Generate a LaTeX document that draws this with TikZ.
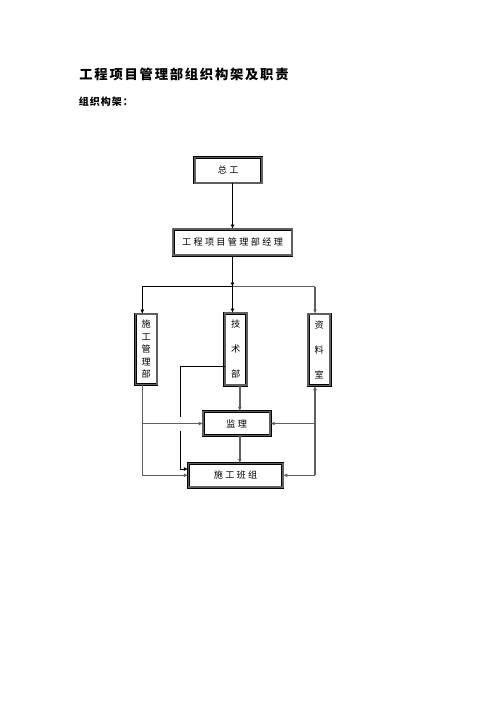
\documentclass[tikz,border=0pt]{standalone}
\usepackage{fontspec}
\setmainfont{Noto Sans CJK SC}
\newfontfamily\boxfont[LetterSpace=25]{Noto Sans CJK SC}
\newfontfamily\headfont[LetterSpace=13]{Noto Sans CJK SC}
\newfontfamily\subfont[LetterSpace=10]{Noto Sans CJK SC}
\usetikzlibrary{arrows.meta, positioning, calc}
\definecolor{linegray}{RGB}{95,95,95}

\begin{document}
\begin{tikzpicture}[x=1.2pt, y=-1.2pt,
            box/.style={draw=black, line width=0.7pt, double=linegray, double distance=2pt,
                inner sep=0pt, font=\boxfont\fontsize{11}{13}\selectfont},
            vbox/.style={box, align=center, font=\fontsize{11}{#1}\selectfont},
            blk/.style={line width=0.8pt, black},
            gry/.style={line width=1.7pt, linegray},
            arr/.style={-{Latex[length=5pt, width=4.6pt]}}]
            \useasboundingbox (0,0) rectangle (496,702);
            \node [anchor=west, font=\headfont\bfseries\fontsize{16}{19}\selectfont] (title) at (76.5,74) {工程项目管理部组织构架及职责};
            \node [anchor=west, font=\subfont\bfseries\fontsize{12}{14}\selectfont] (sub) at (76,101.5) {组织构架：};

            \node [box, minimum width=80.6pt, minimum height=30.6pt] (zg) at (228.3,170.2) {总工};
            \node [box, minimum width=142.6pt, minimum height=31.4pt] (jl) at (232.5,242.2) {工程项目管理部经理};
            \node [vbox=15pt, minimum width=25.8pt, minimum height=84.6pt] (sg) at (146.2,349.3) {施\\工\\管\\理\\部};
            \node [vbox=30pt, minimum width=26.4pt, minimum height=86.4pt] (js) at (235.8,349.1) {技\\术\\部};
            \node [vbox=29.6pt, minimum width=26.4pt, minimum height=85.8pt] (zl) at (319.2,349.8) {资\\料\\室};
            \node [box, minimum width=80.6pt, minimum height=29pt] (jianli) at (236.7,423.5) {监理};
            \node [box, minimum width=113.4pt, minimum height=28.4pt] (bz) at (235.6,475.3) {施工班组};

            \coordinate (spine) at (232.5,286.7);
            \coordinate (busL) at (142.3,286.7);
            \coordinate (busR) at (315,286.7);
            \coordinate (mid) at (239.8,450);
            \coordinate (lowL) at (142.3,475.3);
            \coordinate (lowR) at (315,475.3);
            \coordinate (tkA) at (180,366);
            \coordinate (tkB) at (180,469);

            \draw [blk, arr] (zg.south -| spine) -- (jl.north -| spine);
            \draw [blk, arr] (jl.south -| spine) -- (spine);
            \draw [blk] (busL) -- (spine);
            \draw [gry] (spine) -- (busR);
            \draw [blk, arr] (busL) -- (sg.north -| busL);
            \draw [blk, arr] (spine) -- (js.north -| spine);
            \draw [gry, arr] (busR) -- (zl.north -| busR);

            \draw [gry, arr] (sg.south -| lowL) -- (lowL) -- (bz.west);
            \draw [gry, arr] (lowL |- jianli.west) -- (jianli.west);
            \draw [blk] (js.west |- tkA) -- (tkA) -- ($(tkA |- jianli.west)+(0,-7)$);
            \draw [blk, arr] ($(tkA |- jianli.west)+(0,7)$) -- (tkB) -- (bz.west |- tkB);
            \draw [gry, arr] (js.south -| mid) -- (jianli.north -| mid);
            \draw [gry, arr] (jianli.south -| mid) -- (bz.north -| mid);
            \draw [gry, arr] (lowR) -- (zl.south -| lowR);
            \draw [gry, arr] (lowR |- jianli.east) -- (jianli.east);
            \draw [gry, arr] (lowR) -- (bz.east);
        \end{tikzpicture}
\end{document}
